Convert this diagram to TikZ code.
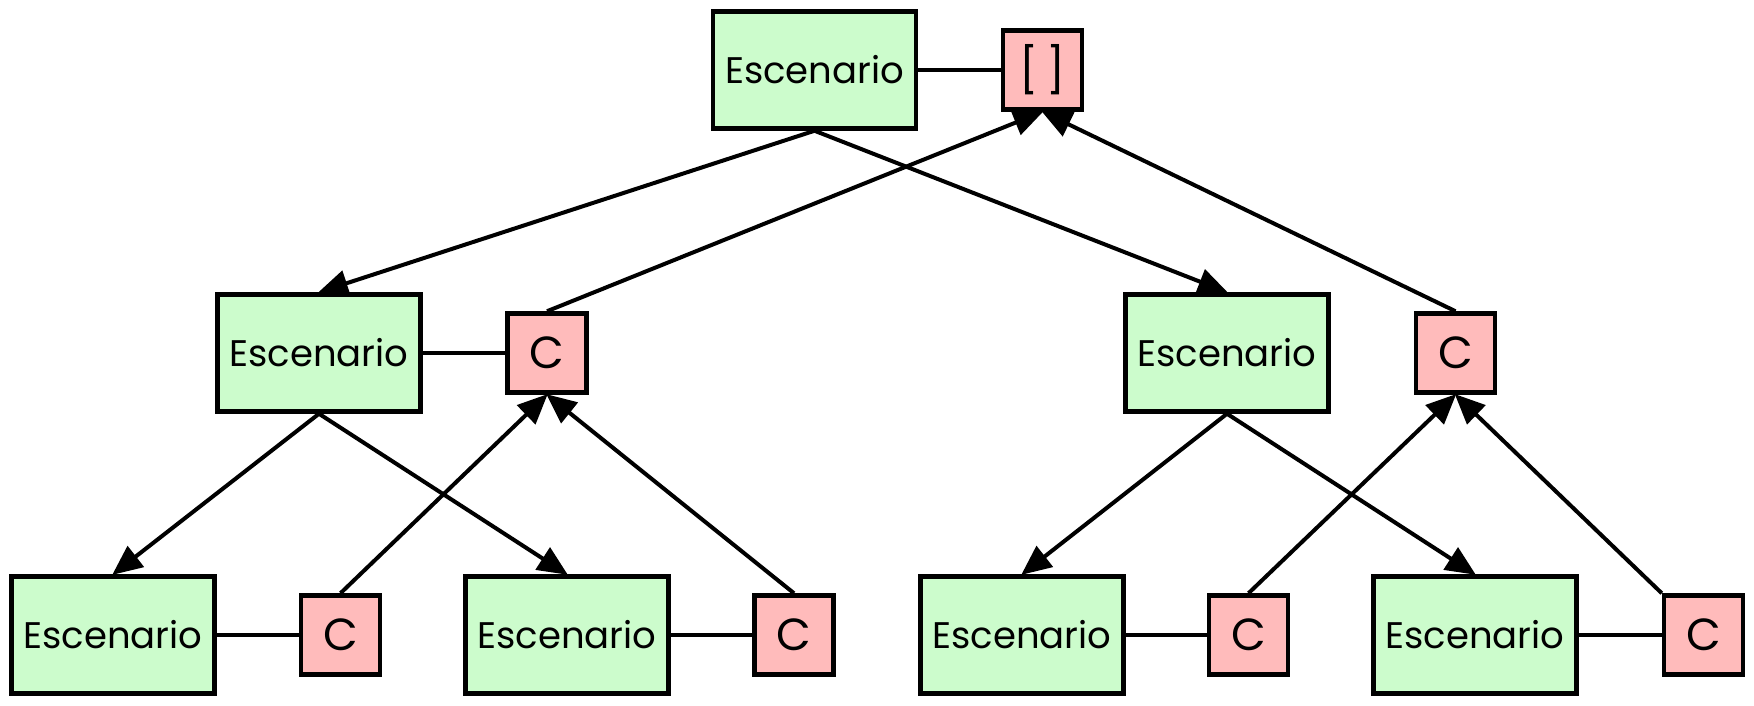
\documentclass[tikz,border=0pt]{standalone}
\usepackage{fontspec}
\setmainfont{Poppins}
\usetikzlibrary{arrows.meta}
\definecolor{boxgreen}{RGB}{204,252,204}
\definecolor{boxpink}{RGB}{255,187,187}
\tikzset{
  esc/.style={draw=black, line width=4.5pt, fill=boxgreen, minimum width=203pt, minimum height=117pt, inner sep=0pt, font=\fontsize{37}{40}\selectfont},
  cbox/.style={draw=black, line width=4.5pt, fill=boxpink, minimum width=79pt, minimum height=79pt, inner sep=0pt, font=\fontsize{45}{48}\selectfont},
  link/.style={line width=4pt},
  arr/.style={line width=4pt, -{Triangle[length=30pt,width=26pt]}, shorten >=-1pt}
}
\begin{document}
\begin{tikzpicture}[x=1pt,y=-1pt]
\useasboundingbox (0,0) rectangle (1754,706);
% top
\node[esc] (e0) at (814.5,70) {Escenario};
\node[cbox] (c0) at (1042.5,70) {[\,]};
% level 2
\node[esc] (e1) at (319,353) {Escenario};
\node[cbox] (c1) at (547,353) {C};
\node[esc] (e2) at (1227,353) {Escenario};
\node[cbox] (c2) at (1455.5,353) {C};
% bottom
\node[esc] (e3) at (113,635) {Escenario};
\node[cbox] (c3) at (340.5,635) {C};
\node[esc] (e4) at (567,635) {Escenario};
\node[cbox] (c4) at (794,635) {C};
\node[esc] (e5) at (1022,635) {Escenario};
\node[cbox] (c5) at (1248.5,635) {C};
\node[esc] (e6) at (1475,635) {Escenario};
\node[cbox] (c6) at (1703.5,635) {C};
% links
\draw[link] (e0.east) -- (c0.west);
\draw[link] (e1.east) -- (c1.west);
\draw[link] (e3.east) -- (c3.west);
\draw[link] (e4.east) -- (c4.west);
\draw[link] (e5.east) -- (c5.west);
\draw[link] (e6.east) -- (c6.west);
% escenario edges
\draw[arr] (e0.south) -- (e1.north);
\draw[arr] (e0.south) -- (e2.north);
\draw[arr] (e1.south) -- (e3.north);
\draw[arr] (e1.south) -- (e4.north);
\draw[arr] (e2.south) -- (e5.north);
\draw[arr] (e2.south) -- (e6.north);
% C edges
\draw[arr] (c1.north) -- (c0.south);
\draw[arr] (c2.north) -- (c0.south);
\draw[arr] (c3.north) -- (c1.south);
\draw[arr] (c4.north) -- (c1.south);
\draw[arr] (c5.north) -- (c2.south);
\draw[arr] (c6.north west) -- (c2.south);
\end{tikzpicture}
\end{document}
